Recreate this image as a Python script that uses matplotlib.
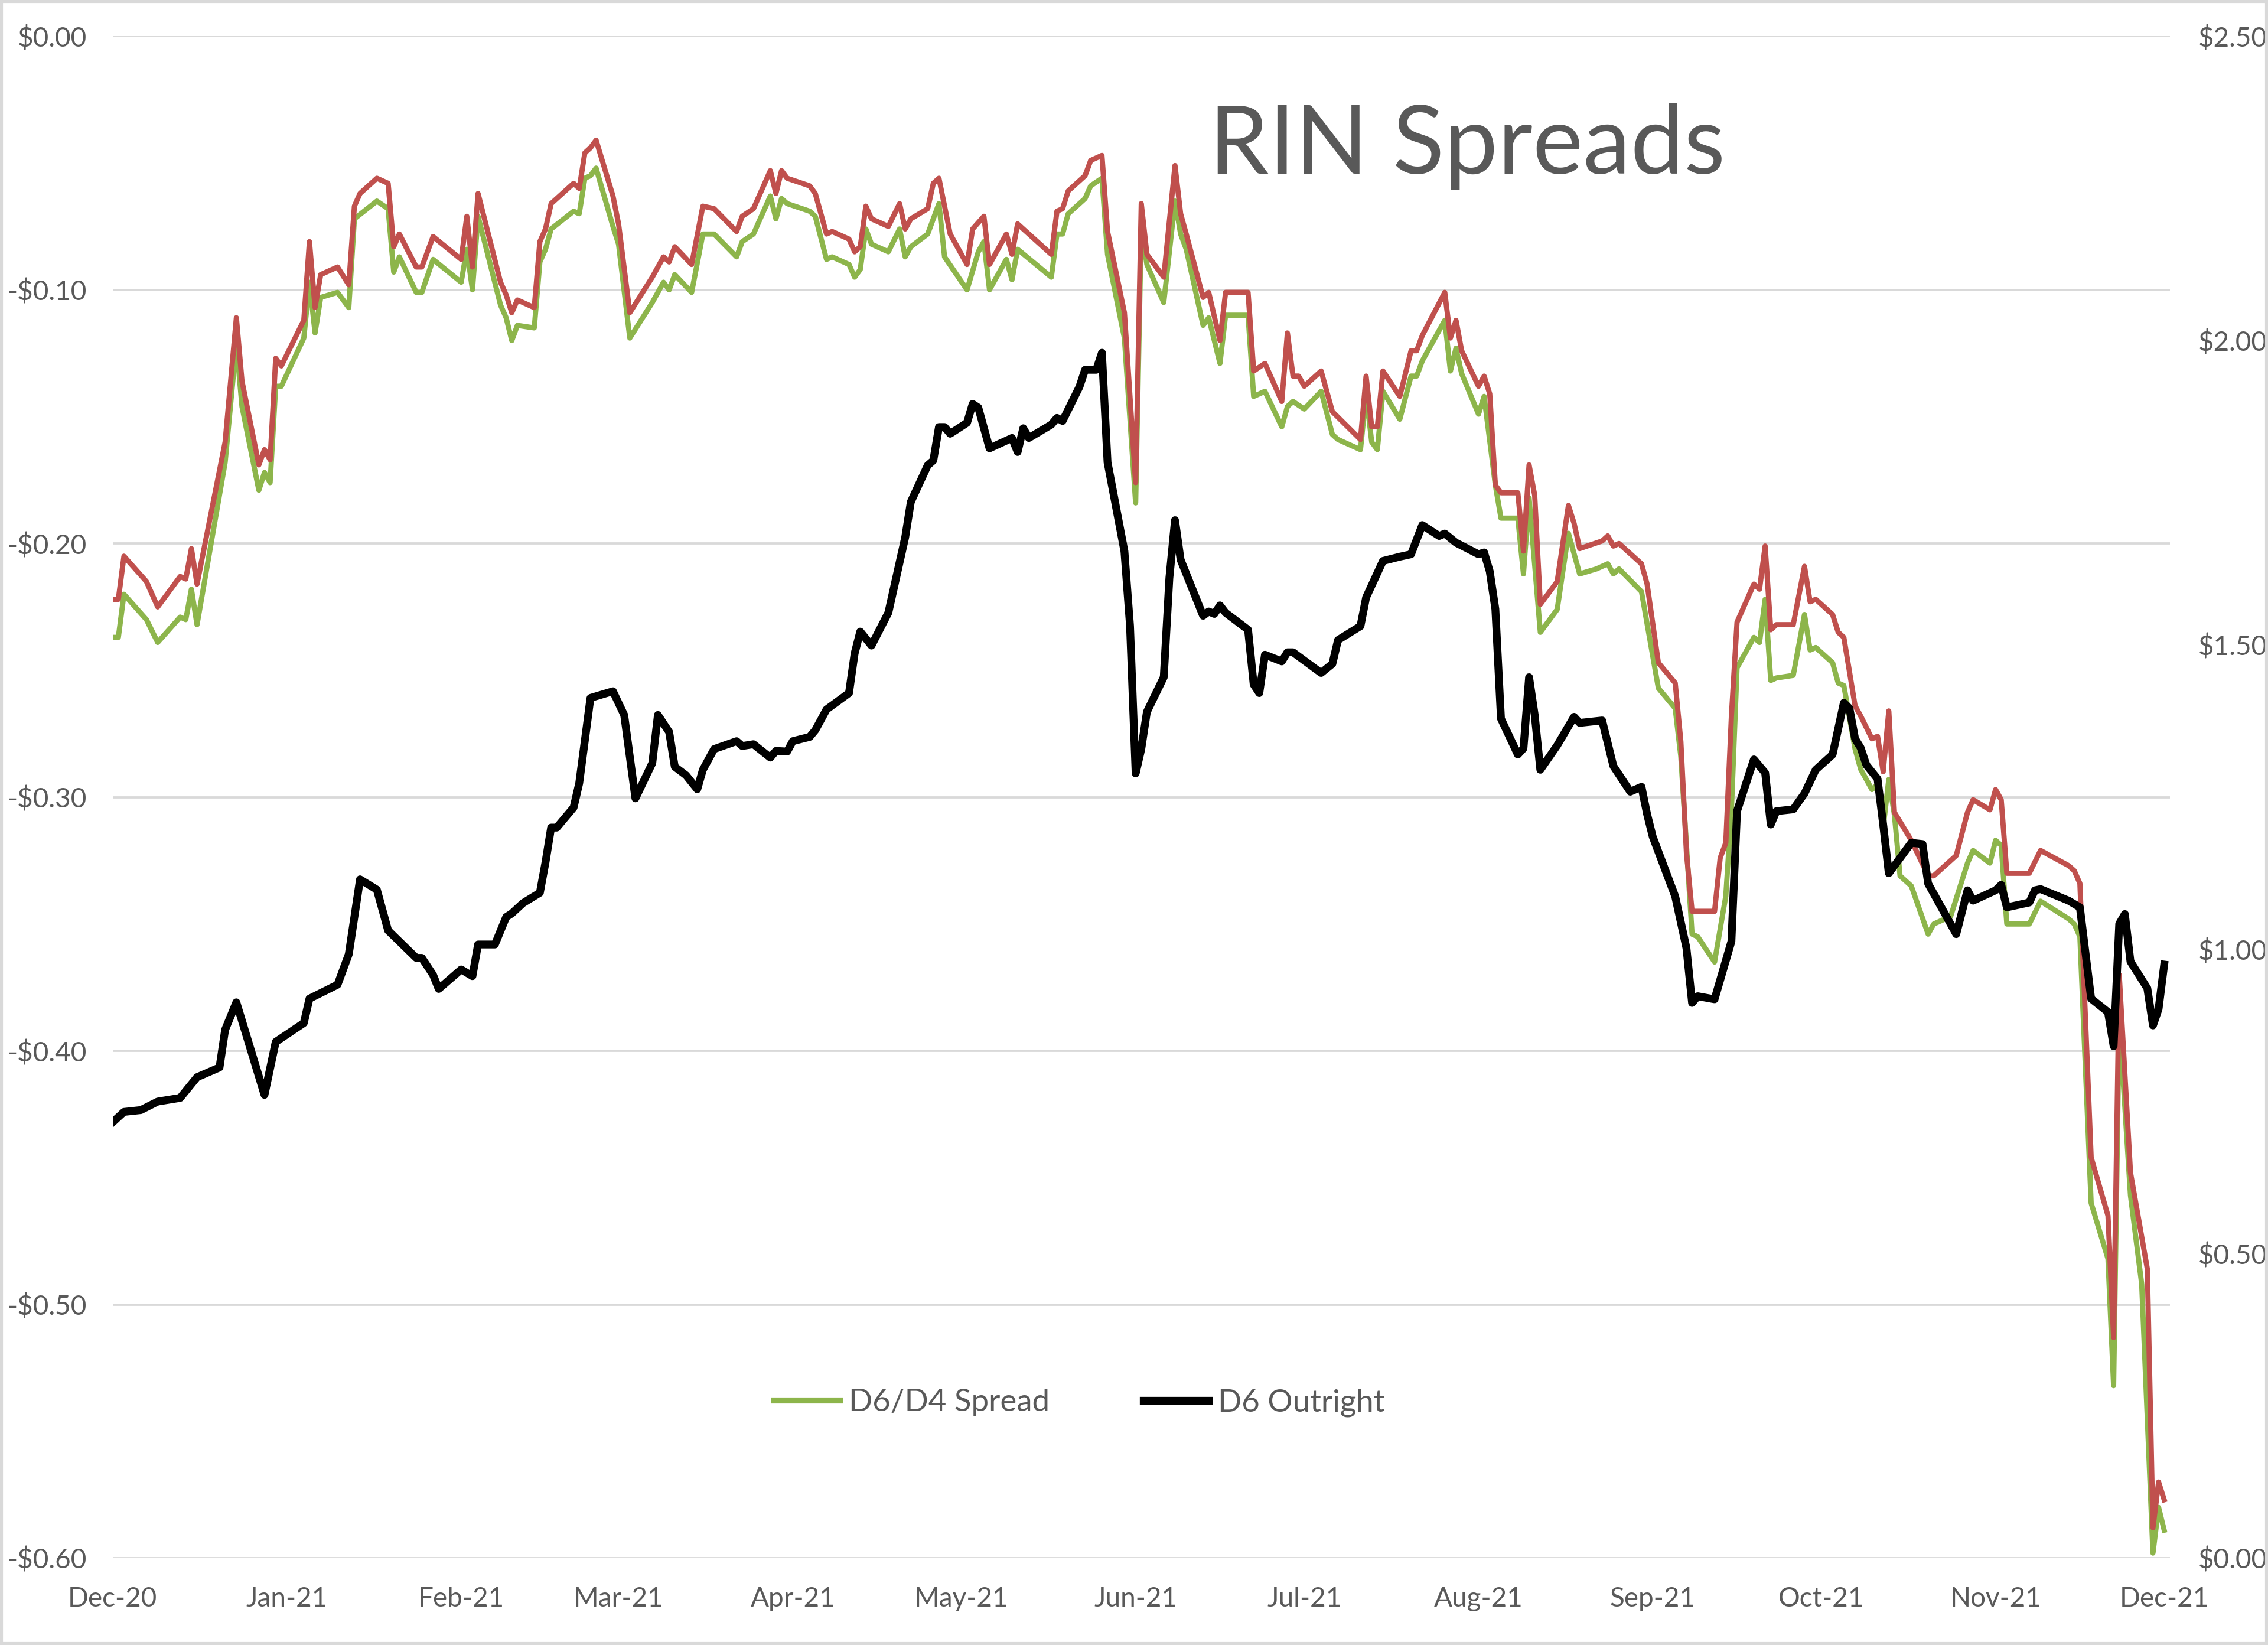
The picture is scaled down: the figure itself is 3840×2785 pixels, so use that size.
import pandas as pd
import matplotlib.pyplot as plt
import matplotlib.dates as mdates
from matplotlib.ticker import FuncFormatter
from matplotlib.lines import Line2D
from matplotlib.patches import Rectangle

plt.rcParams['font.family'] = ['Lato', 'DejaVu Sans']

# data, x as days since 2020-12-01
start = pd.Timestamp("2020-12-01")

# D6/D4 spread (green, left axis)
d4_days = [0, 1, 2, 6, 8, 12, 13, 14, 15, 20, 22, 23, 26, 27, 28, 29, 30, 34, 35, 36,
           37, 40, 42, 43, 47, 49, 50, 51, 54, 55, 57, 62, 63, 64, 65, 69, 70, 71, 72, 75,
           76, 77, 78, 82, 83, 84, 85, 86, 89, 90, 92, 96, 98, 99, 100, 103, 105, 107, 111, 112,
           114, 117, 118, 119, 120, 124, 125, 127, 128, 131, 132, 133, 134, 135, 138, 140, 141, 142, 145, 147,
           148, 152, 154, 155, 156, 159, 160, 161, 167, 168, 169, 170, 173, 174, 176, 177, 180, 182, 183, 184,
           187, 189, 190, 191, 194, 195, 197, 198, 202, 203, 205, 208, 209, 210, 212, 215, 217, 218, 222, 223,
           224, 225, 226, 229, 231, 232, 233, 237, 238, 239, 240, 243, 244, 246, 247, 250, 251, 252, 254, 257,
           259, 261, 264, 266, 267, 268, 272, 275, 278, 279, 281, 282, 285, 287, 288, 289, 292, 293, 294, 295,
           296, 299, 301, 302, 303, 306, 307, 308, 310, 311, 313, 314, 315, 316, 317, 318, 320, 323, 324, 327,
           330, 331, 334, 335, 336, 337, 341, 343, 348, 349, 350, 352, 355, 356, 357, 359, 361, 363, 364, 365]
d4_spread = [-0.237, -0.237, -0.220, -0.230, -0.239, -0.229, -0.230, -0.218, -0.232, -0.168,
             -0.121, -0.146, -0.179, -0.172, -0.176, -0.138, -0.138, -0.119, -0.097, -0.117,
             -0.103, -0.101, -0.107, -0.072, -0.065, -0.068, -0.093, -0.087, -0.101, -0.101,
             -0.088, -0.097, -0.084, -0.100, -0.071, -0.106, -0.111, -0.120, -0.114, -0.115,
             -0.089, -0.084, -0.076, -0.069, -0.070, -0.056, -0.055, -0.052, -0.075, -0.082,
             -0.119, -0.105, -0.097, -0.100, -0.094, -0.101, -0.078, -0.078, -0.087, -0.081,
             -0.078, -0.063, -0.072, -0.064, -0.066, -0.069, -0.071, -0.088, -0.087, -0.090,
             -0.095, -0.092, -0.076, -0.082, -0.085, -0.076, -0.087, -0.083, -0.078, -0.066,
             -0.087, -0.100, -0.085, -0.081, -0.100, -0.088, -0.096, -0.084, -0.095, -0.078,
             -0.078, -0.070, -0.064, -0.059, -0.056, -0.086, -0.119, -0.184, -0.075, -0.090,
             -0.105, -0.065, -0.078, -0.084, -0.114, -0.111, -0.129, -0.110, -0.110, -0.142,
             -0.140, -0.154, -0.146, -0.144, -0.147, -0.140, -0.157, -0.159, -0.163, -0.141,
             -0.160, -0.163, -0.140, -0.151, -0.134, -0.134, -0.128, -0.112, -0.132, -0.123,
             -0.133, -0.149, -0.142, -0.177, -0.190, -0.190, -0.212, -0.182, -0.235, -0.226,
             -0.196, -0.212, -0.210, -0.208, -0.212, -0.210, -0.219, -0.257, -0.265, -0.284,
             -0.354, -0.355, -0.365, -0.339, -0.305, -0.249, -0.237, -0.239, -0.222, -0.254,
             -0.253, -0.252, -0.228, -0.242, -0.241, -0.247, -0.255, -0.256, -0.281, -0.289,
             -0.297, -0.295, -0.312, -0.293, -0.307, -0.331, -0.335, -0.354, -0.350, -0.347,
             -0.326, -0.321, -0.326, -0.317, -0.319, -0.350, -0.350, -0.341, -0.348, -0.350,
             -0.355, -0.460, -0.482, -0.532, -0.387, -0.457, -0.492, -0.598, -0.580, -0.589]

# second spread (red, left axis, not in legend)
d5_days = [0, 1, 2, 6, 8, 12, 13, 14, 15, 20, 22, 23, 26, 27, 28, 29, 30, 34, 35, 36,
           37, 40, 42, 43, 44, 47, 49, 50, 51, 54, 55, 57, 62, 63, 64, 65, 69, 70, 71, 72,
           75, 76, 77, 78, 82, 83, 84, 85, 86, 89, 90, 92, 96, 98, 99, 100, 103, 105, 107, 111,
           112, 114, 117, 118, 119, 120, 124, 125, 127, 128, 131, 132, 133, 134, 135, 138, 140, 141, 142, 145,
           146, 147, 149, 152, 153, 155, 156, 159, 160, 161, 167, 168, 169, 170, 173, 174, 176, 177, 180, 182,
           183, 184, 187, 189, 190, 191, 194, 195, 197, 198, 202, 203, 205, 208, 209, 210, 211, 212, 215, 217,
           222, 223, 224, 225, 226, 229, 231, 232, 233, 237, 238, 239, 240, 243, 244, 245, 246, 247, 250, 251,
           252, 253, 254, 257, 259, 260, 261, 265, 266, 267, 268, 272, 273, 275, 278, 279, 280, 281, 285, 286,
           287, 288, 289, 292, 293, 294, 295, 296, 299, 301, 302, 303, 306, 307, 308, 310, 311, 313, 314, 315,
           316, 317, 320, 323, 324, 328, 330, 331, 334, 335, 336, 337, 341, 343, 348, 349, 350, 352, 355, 356,
           357, 359, 362, 363, 364, 365]
d5_spread = [-0.222, -0.222, -0.205, -0.215, -0.225, -0.213, -0.214, -0.202, -0.216, -0.160,
             -0.111, -0.136, -0.169, -0.163, -0.167, -0.127, -0.130, -0.112, -0.081, -0.107,
             -0.094, -0.091, -0.098, -0.067, -0.062, -0.056, -0.058, -0.083, -0.078, -0.091,
             -0.091, -0.079, -0.088, -0.071, -0.091, -0.062, -0.097, -0.102, -0.109, -0.104,
             -0.107, -0.081, -0.076, -0.066, -0.058, -0.060, -0.046, -0.044, -0.041, -0.063,
             -0.074, -0.109, -0.095, -0.087, -0.089, -0.083, -0.090, -0.067, -0.068, -0.077,
             -0.071, -0.068, -0.053, -0.062, -0.053, -0.056, -0.059, -0.062, -0.078, -0.077,
             -0.080, -0.085, -0.083, -0.067, -0.072, -0.075, -0.066, -0.076, -0.072, -0.068,
             -0.058, -0.056, -0.078, -0.090, -0.076, -0.071, -0.090, -0.078, -0.086, -0.074,
             -0.086, -0.069, -0.068, -0.061, -0.055, -0.049, -0.047, -0.077, -0.109, -0.176,
             -0.066, -0.086, -0.095, -0.051, -0.070, -0.078, -0.103, -0.101, -0.120, -0.101,
             -0.101, -0.132, -0.129, -0.144, -0.117, -0.134, -0.134, -0.138, -0.132, -0.148,
             -0.159, -0.134, -0.154, -0.154, -0.132, -0.142, -0.124, -0.124, -0.118, -0.101,
             -0.119, -0.112, -0.124, -0.138, -0.134, -0.141, -0.177, -0.180, -0.180, -0.203,
             -0.169, -0.181, -0.224, -0.215, -0.185, -0.192, -0.202, -0.199, -0.197, -0.201,
             -0.200, -0.208, -0.216, -0.247, -0.255, -0.278, -0.322, -0.345, -0.345, -0.324,
             -0.318, -0.268, -0.231, -0.216, -0.218, -0.201, -0.234, -0.232, -0.232, -0.209,
             -0.223, -0.222, -0.228, -0.235, -0.237, -0.264, -0.268, -0.277, -0.276, -0.290,
             -0.266, -0.306, -0.317, -0.331, -0.331, -0.323, -0.306, -0.301, -0.305, -0.297,
             -0.301, -0.330, -0.330, -0.321, -0.327, -0.329, -0.334, -0.442, -0.465, -0.513,
             -0.370, -0.448, -0.486, -0.588, -0.570, -0.577]

# D6 outright (black, right axis)
d6_days = [0, 2, 5, 8, 12, 15, 19, 20, 22, 27, 29, 34, 35, 40, 42, 44, 47, 49, 54, 55,
           57, 58, 62, 64, 65, 68, 70, 71, 73, 76, 77, 78, 79, 82, 83, 85, 89, 91, 93, 96,
           97, 99, 100, 102, 104, 105, 107, 111, 112, 114, 117, 118, 120, 121, 124, 125, 127, 131, 132, 133,
           135, 138, 141, 142, 145, 146, 147, 148, 149, 152, 153, 154, 156, 160, 161, 162, 163, 167, 168, 169,
           172, 173, 175, 176, 177, 180, 181, 182, 183, 184, 187, 188, 189, 190, 194, 195, 196, 197, 198, 202,
           203, 204, 205, 208, 209, 210, 215, 217, 218, 222, 223, 226, 229, 231, 233, 236, 237, 239, 243, 244,
           245, 246, 247, 250, 251, 252, 253, 254, 257, 260, 261, 265, 267, 270, 272, 273, 274, 278, 280, 281,
           282, 285, 288, 289, 292, 294, 295, 296, 299, 301, 303, 306, 308, 309, 310, 311, 312, 314, 315, 316,
           320, 322, 323, 328, 330, 331, 335, 336, 337, 341, 342, 343, 348, 350, 352, 355, 356, 357, 358, 359,
           362, 363, 364, 365]
d6_outright = [0.716, 0.733, 0.736, 0.750, 0.756, 0.790, 0.806, 0.868, 0.913, 0.761,
               0.848, 0.879, 0.919, 0.942, 0.992, 1.115, 1.098, 1.031, 0.986, 0.986,
               0.958, 0.935, 0.967, 0.956, 1.008, 1.008, 1.053, 1.059, 1.076, 1.093,
               1.143, 1.200, 1.200, 1.233, 1.273, 1.413, 1.424, 1.385, 1.248, 1.306,
               1.385, 1.357, 1.300, 1.286, 1.263, 1.295, 1.329, 1.342, 1.334, 1.337,
               1.315, 1.326, 1.325, 1.342, 1.349, 1.360, 1.394, 1.421, 1.486, 1.522,
               1.499, 1.553, 1.677, 1.735, 1.795, 1.803, 1.858, 1.858, 1.847, 1.865,
               1.896, 1.890, 1.823, 1.840, 1.817, 1.856, 1.840, 1.862, 1.873, 1.868,
               1.924, 1.952, 1.952, 1.980, 1.800, 1.654, 1.531, 1.289, 1.329, 1.390,
               1.447, 1.610, 1.705, 1.640, 1.548, 1.555, 1.551, 1.565, 1.553, 1.525,
               1.435, 1.421, 1.484, 1.473, 1.488, 1.488, 1.454, 1.469, 1.508, 1.531,
               1.578, 1.638, 1.645, 1.649, 1.697, 1.679, 1.683, 1.668, 1.649, 1.652,
               1.621, 1.559, 1.379, 1.320, 1.330, 1.447, 1.385, 1.295, 1.335, 1.382,
               1.372, 1.376, 1.301, 1.259, 1.267, 1.222, 1.185, 1.087, 1.002, 0.912,
               0.923, 0.918, 1.013, 1.227, 1.312, 1.290, 1.205, 1.227, 1.230, 1.256,
               1.295, 1.320, 1.405, 1.396, 1.346, 1.331, 1.303, 1.280, 1.205, 1.125,
               1.175, 1.173, 1.108, 1.025, 1.097, 1.080, 1.097, 1.106, 1.069, 1.077,
               1.097, 1.099, 1.080, 1.069, 0.919, 0.897, 0.841, 1.042, 1.058, 0.980,
               0.936, 0.875, 0.902, 0.975]

left_ticks = [0.0, -0.1, -0.2, -0.3, -0.4, -0.5, -0.6]
right_ticks = [0.0, 0.5, 1.0, 1.5, 2.0, 2.5]

green = '#8db54b'
red = '#c0504d'
grey_text = '#595959'


def to_dates(days):
    return start + pd.to_timedelta(days, unit='D')


def left_fmt(v, pos):
    if v < -1e-9:
        return '-${:.2f}'.format(abs(v))
    return '${:.2f}'.format(abs(v))


fig = plt.figure(figsize=(15.68, 11.372), dpi=244.9)
ax = fig.add_axes([0.0497, 0.0528, 0.907, 0.9252])
ax2 = ax.twinx()

ax.plot(to_dates(d4_days), d4_spread, color=green, lw=2.6, solid_joinstyle='round')
ax.plot(to_dates(d5_days), d5_spread, color=red, lw=2.6, solid_joinstyle='round')
ax2.plot(to_dates(d6_days), d6_outright, color='black', lw=3.9, solid_joinstyle='round')

ax.set_ylim(-0.6, 0.0)
ax2.set_ylim(0.0, 2.5)
ax.set_xlim(start, start + pd.Timedelta(days=366))

ax.set_yticks(left_ticks)
ax2.set_yticks(right_ticks)
ax.yaxis.set_major_formatter(FuncFormatter(left_fmt))
ax2.yaxis.set_major_formatter(FuncFormatter(lambda v, p: '${:.2f}'.format(v)))

ax.xaxis.set_major_locator(mdates.MonthLocator())
ax.xaxis.set_major_formatter(mdates.DateFormatter('%b-%y'))

ax.grid(axis='y', color='#d9d9d9', lw=1.1)
ax.set_axisbelow(True)
for a in (ax, ax2):
    for s in a.spines.values():
        s.set_visible(False)
    a.tick_params(length=0, labelsize=13.5, labelcolor=grey_text)
ax.tick_params(axis='y', pad=13)
ax.tick_params(axis='x', pad=14)
ax2.tick_params(axis='y', pad=14)

fig.text(0.533, 0.8945, 'RIN Spreads', fontsize=47.5, color=grey_text, ha='left', va='baseline')

handles = [Line2D([], [], color=green, lw=3.0),
           Line2D([], [], color='black', lw=3.9)]
ax.legend(handles, ['D6/D4 Spread', 'D6 Outright'], loc='center',
          bbox_to_anchor=(0.47, 0.102), ncol=2, frameon=False,
          fontsize=15.5, labelcolor=grey_text, handlelength=2.1,
          handletextpad=0.3, columnspacing=3.0)

fig.patches.append(Rectangle((0, 0), 1, 1, transform=fig.transFigure, fill=False,
                             edgecolor='#d9d9d9', lw=3))

fig.savefig('out.png', dpi=244.9)
